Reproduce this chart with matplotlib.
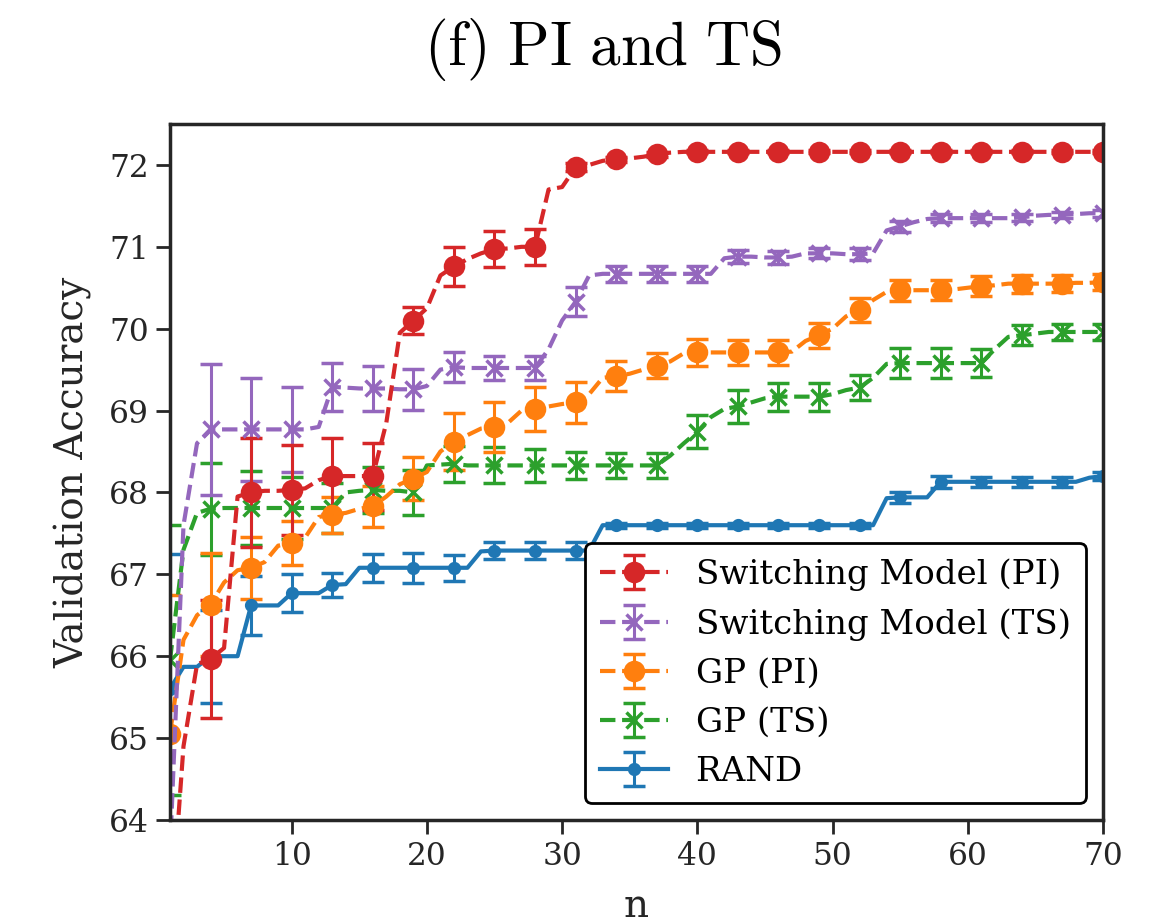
import numpy as np
import matplotlib
matplotlib.use('Agg')
import matplotlib.pyplot as plt

plt.rcParams['font.family'] = ['DejaVu Serif']
plt.rcParams['mathtext.fontset'] = 'cm'

# iterations
n = np.arange(1, 71)

# best validation accuracy so far, one value per iteration
sw_pi = [62.6, 64.9, 65.9, 65.97, 66.1, 67.95, 68.0, 68.02, 68.02, 68.03,
         68.05, 68.15, 68.2, 68.2, 68.2, 68.2, 68.85, 69.95, 70.1, 70.25,
         70.65, 70.76, 70.85, 70.92, 70.97, 70.98, 71.0, 71.0, 71.7, 71.73,
         71.97, 72.0, 72.05, 72.07, 72.08, 72.1, 72.13, 72.15, 72.16, 72.16,
         72.16, 72.16, 72.16, 72.16, 72.16, 72.16, 72.16, 72.16, 72.16, 72.16,
         72.16, 72.16, 72.16, 72.16, 72.16, 72.16, 72.16, 72.16, 72.16, 72.16,
         72.16, 72.16, 72.16, 72.16, 72.16, 72.16, 72.16, 72.16, 72.16, 72.16]

sw_ts = [63.6, 67.6, 68.6, 68.77, 68.77, 68.77, 68.77, 68.77, 68.77, 68.77,
         68.77, 68.8, 69.29, 69.28, 69.27, 69.27, 69.27, 69.26, 69.26, 69.3,
         69.5, 69.53, 69.52, 69.52, 69.52, 69.52, 69.52, 69.52, 69.75, 70.1,
         70.33, 70.65, 70.67, 70.67, 70.67, 70.67, 70.67, 70.67, 70.67, 70.67,
         70.67, 70.86, 70.88, 70.88, 70.87, 70.87, 70.88, 70.92, 70.92, 70.92,
         70.91, 70.91, 70.92, 71.2, 71.25, 71.3, 71.34, 71.35, 71.35, 71.35,
         71.35, 71.35, 71.35, 71.36, 71.38, 71.39, 71.39, 71.4, 71.41, 71.41]

gp_pi = [65.05, 66.2, 66.5, 66.63, 66.9, 67.05, 67.08, 67.15, 67.35, 67.38,
         67.45, 67.7, 67.73, 67.75, 67.8, 67.83, 67.95, 68.1, 68.17, 68.25,
         68.5, 68.62, 68.7, 68.78, 68.8, 68.85, 69.0, 69.02, 69.05, 69.08,
         69.1, 69.2, 69.4, 69.42, 69.45, 69.5, 69.55, 69.6, 69.7, 69.71,
         69.71, 69.71, 69.71, 69.71, 69.71, 69.71, 69.72, 69.85, 69.92, 70.0,
         70.15, 70.23, 70.35, 70.45, 70.47, 70.47, 70.47, 70.47, 70.48, 70.5,
         70.52, 70.53, 70.55, 70.55, 70.55, 70.55, 70.55, 70.56, 70.56, 70.57]

gp_ts = [65.95, 67.3, 67.75, 67.8, 67.81, 67.81, 67.81, 67.81, 67.81, 67.81,
         67.81, 67.81, 67.81, 68.0, 68.02, 68.03, 68.02, 68.02, 68.0, 68.33,
         68.34, 68.35, 68.33, 68.33, 68.33, 68.33, 68.33, 68.33, 68.33, 68.33,
         68.33, 68.33, 68.33, 68.33, 68.33, 68.33, 68.33, 68.45, 68.6, 68.74,
         68.92, 69.02, 69.05, 69.1, 69.15, 69.17, 69.17, 69.17, 69.17, 69.2,
         69.25, 69.28, 69.4, 69.57, 69.58, 69.58, 69.58, 69.58, 69.58, 69.58,
         69.58, 69.75, 69.9, 69.92, 69.94, 69.96, 69.96, 69.96, 69.96, 69.96]

rand = [65.6, 65.87, 65.87, 66.0, 66.0, 66.0, 66.62, 66.62, 66.62, 66.77,
        66.77, 66.77, 66.87, 66.88, 67.08, 67.08, 67.08, 67.08, 67.08, 67.08,
        67.08, 67.08, 67.08, 67.28, 67.29, 67.29, 67.29, 67.29, 67.29, 67.29,
        67.29, 67.29, 67.6, 67.6, 67.6, 67.6, 67.6, 67.6, 67.6, 67.6,
        67.6, 67.6, 67.6, 67.6, 67.6, 67.6, 67.6, 67.6, 67.6, 67.6,
        67.6, 67.6, 67.6, 67.93, 67.94, 67.94, 67.94, 68.13, 68.13, 68.13,
        68.13, 68.13, 68.13, 68.13, 68.13, 68.13, 68.13, 68.13, 68.18, 68.2]

# error bars, only at every third iteration (n = 1, 4, 7, ..., 70)
sw_pi_err = [1.0, 0.72, 0.67, 0.55, 0.46, 0.41, 0.16, 0.24, 0.22, 0.22, 0.05, 0.03,
             0.03, 0.02, 0.02, 0.02, 0.02, 0.02, 0.02, 0.02, 0.02, 0.02, 0.02, 0.02]
sw_ts_err = [0.3, 0.8, 0.63, 0.52, 0.29, 0.27, 0.25, 0.18, 0.15, 0.15, 0.18, 0.1,
             0.1, 0.1, 0.08, 0.08, 0.06, 0.07, 0.07, 0.05, 0.05, 0.04, 0.04, 0.04]
gp_pi_err = [1.7, 0.63, 0.38, 0.27, 0.22, 0.25, 0.26, 0.35, 0.3, 0.27, 0.25, 0.18,
             0.15, 0.17, 0.15, 0.15, 0.15, 0.15, 0.13, 0.12, 0.12, 0.11, 0.1, 0.1]
gp_ts_err = [1.65, 0.56, 0.45, 0.38, 0.3, 0.28, 0.27, 0.22, 0.22, 0.2, 0.17, 0.15,
             0.15, 0.2, 0.2, 0.17, 0.17, 0.15, 0.18, 0.18, 0.17, 0.12, 0.1, 0.1]
rand_err = [1.65, 0.57, 0.36, 0.23, 0.15, 0.17, 0.18, 0.16, 0.1, 0.1, 0.1, 0.03,
            0.03, 0.03, 0.03, 0.03, 0.03, 0.03, 0.07, 0.07, 0.06, 0.06, 0.06, 0.05]


def full_err(marker_err):
    e = np.zeros(len(n))
    e[::3] = marker_err
    return e


fig = plt.figure(figsize=(11.69, 9.24), dpi=100)
ax = fig.add_axes([0.1454, 0.1126, 0.7981, 0.7532])

spine_col = '#262626'
common = dict(markevery=3, errorevery=3, capsize=8, elinewidth=2.2, capthick=2.2, lw=3)

series = [
    ('RAND', rand, rand_err, '#1f77b4', '-', 'o', 7),
    ('GP (TS)', gp_ts, gp_ts_err, '#2ca02c', '--', 'x', 12),
    ('GP (PI)', gp_pi, gp_pi_err, '#ff7f0e', '--', 'o', 13),
    ('Switching Model (TS)', sw_ts, sw_ts_err, '#9467bd', '--', 'x', 12),
    ('Switching Model (PI)', sw_pi, sw_pi_err, '#d62728', '--', 'o', 13),
]

handles = {}
for label, y, err, col, ls, mk, ms in series:
    h = ax.errorbar(n, y, yerr=full_err(err), color=col, ls=ls, marker=mk, ms=ms,
                    mew=2.5, label=label, **common)
    handles[label] = h

order = ['Switching Model (PI)', 'Switching Model (TS)', 'GP (PI)', 'GP (TS)', 'RAND']
leg = ax.legend([handles[k] for k in order], order, loc='lower right', fontsize=24.5,
                frameon=True, fancybox=True, edgecolor='black', framealpha=1,
                handlelength=2.0, borderpad=0.45, labelspacing=0.5)
leg.get_frame().set_linewidth(2)

ax.set_xlim(1, 70)
ax.set_ylim(64, 72.5)
ax.set_xticks([10, 20, 30, 40, 50, 60, 70])
ax.set_yticks(range(64, 73))
ax.tick_params(axis='both', labelsize=22.5, width=2, length=10, pad=5, color=spine_col,
               labelcolor=spine_col, direction='out')
for s in ax.spines.values():
    s.set_linewidth(2.5)
    s.set_color(spine_col)

ax.set_xlabel('n', fontsize=28, color=spine_col, labelpad=12)
ax.set_ylabel('Validation Accuracy', fontsize=28, color=spine_col, labelpad=12)

fig.text(0.516, 0.946, r'$\mathrm{(f)\ PI\ and\ TS}$', fontsize=44, ha='center', va='center')

fig.savefig('out.png', dpi=100)
